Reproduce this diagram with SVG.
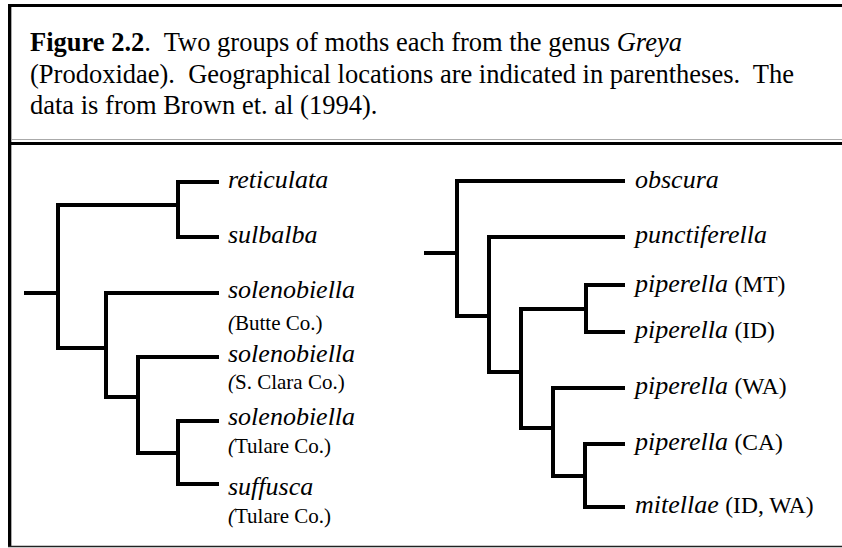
<svg xmlns="http://www.w3.org/2000/svg" width="842" height="548" viewBox="0 0 842 548">
<style>
.cap{font-family:"Liberation Serif","Times New Roman",serif;font-size:26.5px;fill:#000}
.nm{font-family:"Liberation Serif","Times New Roman",serif;font-size:26px;font-style:italic;fill:#000}
.loc{font-family:"Liberation Serif","Times New Roman",serif;font-size:21px;font-style:normal;fill:#000}
.loc2{font-family:"Liberation Serif","Times New Roman",serif;font-size:23.5px;font-style:normal;fill:#000}
.it{font-style:italic}
.br{fill:none;stroke:#000;stroke-width:4;stroke-linejoin:miter;stroke-linecap:square}
</style>
<rect width="842" height="548" fill="#fff"/>
<g id="frame">
<line x1="8" y1="5.5" x2="842" y2="5.5" stroke="#000" stroke-width="3"/>
<line x1="9.5" y1="4" x2="9.5" y2="547" stroke="#000" stroke-width="3"/>
<line x1="11.5" y1="7" x2="11.5" y2="547" stroke="#aaa" stroke-width="1"/>
<line x1="11" y1="139.5" x2="842" y2="139.5" stroke="#aaa" stroke-width="1"/>
<line x1="8" y1="143.5" x2="842" y2="143.5" stroke="#000" stroke-width="3"/>
<line x1="8" y1="546.5" x2="842" y2="546.5" stroke="#222" stroke-width="1.5"/>
</g>
<g id="caption">
<text class="cap" x="30" y="51" xml:space="preserve"><tspan font-weight="bold">Figure 2.2</tspan>.  Two groups of moths each from the genus <tspan class="it">Greya</tspan></text>
<text class="cap" x="30" y="83" xml:space="preserve">(Prodoxidae).  Geographical locations are indicated in parentheses.  The</text>
<text class="cap" x="30" y="114" xml:space="preserve">data is from Brown et. al (1994).</text>
</g>
<g id="connectors">
<path class="br" d="M26 293H58M58 205V348M58 205H178M178 182V237M178 182H217M178 237H217M58 348H106M106 293V397M106 293H217M106 397H138M138 357V453M138 357H217M138 453H178M178 421V484M178 421H217M178 484H217"/>
<path class="br" d="M426 253H457M457 181V316M457 181H623M457 316H489M489 237V372M489 237H623M489 372H521M521 309V428M521 309H586M586 285V332M586 285H623M586 332H623M521 428H553M553 388V476M553 388H623M553 476H585M585 444V507M585 444H623M585 507H623"/>
</g>
<g id="n-reticulata"><text class="nm" x="228" y="188">reticulata</text></g>
<g id="n-sulbalba"><text class="nm" x="228" y="243">sulbalba</text></g>
<g id="n-solenobiella-butte"><text class="nm" x="228" y="298">solenobiella</text><text class="loc" x="228" y="330"><tspan class="it">(</tspan>Butte Co.)</text></g>
<g id="n-solenobiella-sclara"><text class="nm" x="228" y="362">solenobiella</text><text class="loc" x="228" y="389"><tspan class="it">(</tspan>S. Clara Co.)</text></g>
<g id="n-solenobiella-tulare"><text class="nm" x="228" y="425">solenobiella</text><text class="loc" x="228" y="453"><tspan class="it">(</tspan>Tulare Co.)</text></g>
<g id="n-suffusca"><text class="nm" x="228" y="495">suffusca</text><text class="loc" x="228" y="523"><tspan class="it">(</tspan>Tulare Co.)</text></g>
<g id="n-obscura"><text class="nm" x="635" y="188">obscura</text></g>
<g id="n-punctiferella"><text class="nm" x="635" y="243">punctiferella</text></g>
<g id="n-piperella-mt"><text class="nm" x="635" y="292">piperella <tspan class="loc2">(MT)</tspan></text></g>
<g id="n-piperella-id"><text class="nm" x="635" y="338">piperella <tspan class="loc2">(ID)</tspan></text></g>
<g id="n-piperella-wa"><text class="nm" x="635" y="394">piperella <tspan class="loc2">(WA)</tspan></text></g>
<g id="n-piperella-ca"><text class="nm" x="635" y="450">piperella <tspan class="loc2">(CA)</tspan></text></g>
<g id="n-mitellae"><text class="nm" x="635" y="513">mitellae <tspan class="loc2">(ID, WA)</tspan></text></g>
</svg>
